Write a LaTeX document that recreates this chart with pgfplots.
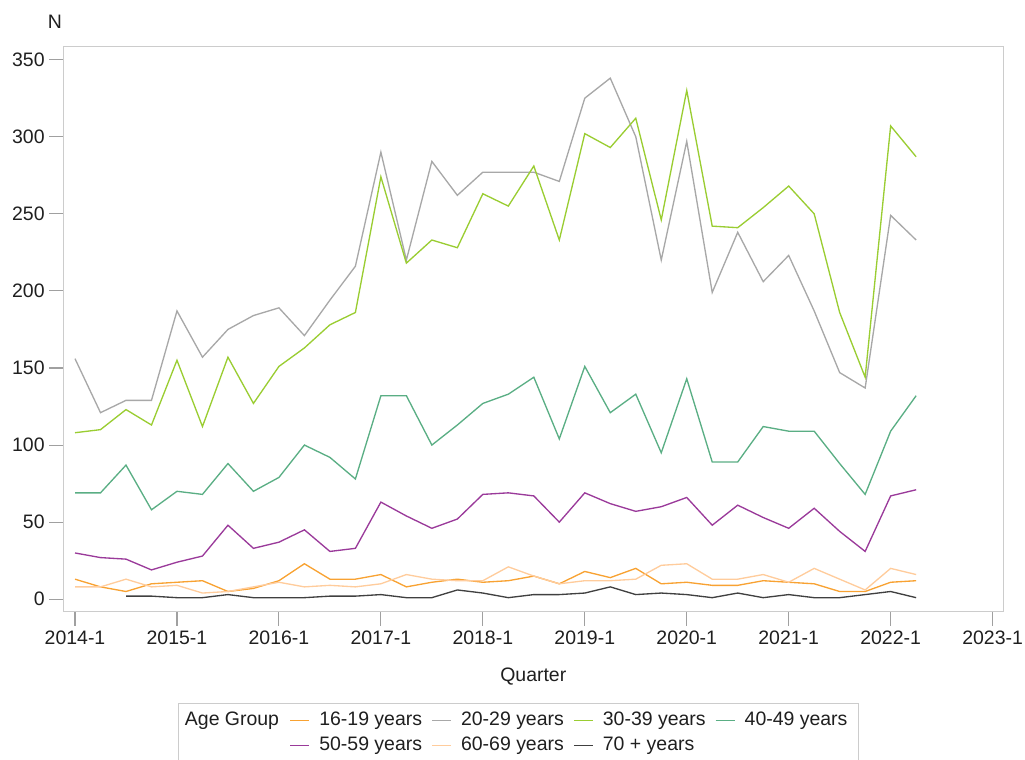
\documentclass[border=0pt]{standalone}
\usepackage{pgfplots}
\pgfplotsset{compat=1.18}
\usepackage{fontspec}
\setmainfont{Liberation Sans}

\definecolor{cA}{HTML}{F8A232}
\definecolor{cB}{HTML}{A8A8A8}
\definecolor{cC}{HTML}{9ACD32}
\definecolor{cD}{HTML}{5AAE84}
\definecolor{cE}{HTML}{9A3A9A}
\definecolor{cF}{HTML}{FFCC9C}
\definecolor{cG}{HTML}{404040}
\definecolor{frame}{HTML}{CCCCCC}
\definecolor{tickc}{HTML}{A0A0A0}

\begin{document}
\begin{tikzpicture}[font=\fontsize{14.6}{17.5}\selectfont, text=black!88]
\begin{axis}[
    at={(0,0)}, anchor=south west,
    scale only axis,
    width  = 705pt,
    height = 423.75pt,
    xmin = -0.46, xmax = 36.42,
    ymin = -8.1,  ymax = 358.4,
    axis line style = {frame, line width=0.8pt},
    tick style = {tickc, line width=0.8pt},
    tick align = outside,
    tick pos = left,
    major tick length = 10.5pt,
    xtick = {0,4,...,36},
    xticklabels = {2014-1,2015-1,2016-1,2017-1,2018-1,2019-1,2020-1,2021-1,2022-1,2023-1},
    ytick = {0,50,...,350},
    yticklabels = {0,50,100,150,200,250,300,350},
    xlabel = {Quarter},
    ylabel = {N},
    xlabel style = {at={(axis description cs:0.5,-0.1244)}, anchor=base},
    ylabel style = {at={(axis description cs:-0.0088,1.0326)}, anchor=base, rotate=-90},
    legend columns = 4,
    legend image code/.code={\draw[#1, line width=1pt] (0pt,3.5pt) -- (14.25pt,3.5pt);},
    legend style = {
        name=leg, draw=none,
        at={(axis description cs:0.2405,-0.1621)}, anchor=north west,
        inner xsep=0pt, inner ysep=3.2pt,
        nodes={inner xsep=0pt, inner ysep=2.6pt, text height=10.5pt, text depth=3pt, anchor=base west},
        /tikz/column sep=7pt,
    },
    every axis plot/.append style={line width=1pt},
]

% 16-19 years
\addplot[cA] coordinates {
(0,13) (1,8) (2,5) (3,10) (4,11) (5,12) (6,5) (7,7) (8,12) (9,23)
(10,13) (11,13) (12,16) (13,8) (14,11) (15,13) (16,11) (17,12) (18,15) (19,10)
(20,18) (21,14) (22,20) (23,10) (24,11) (25,9) (26,9) (27,12) (28,11) (29,10)
(30,5) (31,5) (32,11) (33,12)};
\addlegendentry{16-19 years}

% 20-29 years
\addplot[cB] coordinates {
(0,156) (1,121) (2,129) (3,129) (4,187) (5,157) (6,175) (7,184) (8,189) (9,171)
(10,194) (11,216) (12,290) (13,220) (14,284) (15,262) (16,277) (17,277) (18,277) (19,271)
(20,325) (21,338) (22,300) (23,220) (24,297) (25,199) (26,238) (27,206) (28,223) (29,187)
(30,147) (31,137) (32,249) (33,233)};
\addlegendentry{20-29 years}

% 30-39 years
\addplot[cC] coordinates {
(0,108) (1,110) (2,123) (3,113) (4,155) (5,112) (6,157) (7,127) (8,151) (9,163)
(10,178) (11,186) (12,274) (13,218) (14,233) (15,228) (16,263) (17,255) (18,281) (19,233)
(20,302) (21,293) (22,312) (23,246) (24,330) (25,242) (26,241) (27,254) (28,268) (29,250)
(30,186) (31,144) (32,307) (33,287)};
\addlegendentry{30-39 years}

% 40-49 years
\addplot[cD] coordinates {
(0,69) (1,69) (2,87) (3,58) (4,70) (5,68) (6,88) (7,70) (8,79) (9,100)
(10,92) (11,78) (12,132) (13,132) (14,100) (15,113) (16,127) (17,133) (18,144) (19,104)
(20,151) (21,121) (22,133) (23,95) (24,143) (25,89) (26,89) (27,112) (28,109) (29,109)
(30,88) (31,68) (32,109) (33,132)};
\addlegendentry{40-49 years}

% 50-59 years
\addplot[cE] coordinates {
(0,30) (1,27) (2,26) (3,19) (4,24) (5,28) (6,48) (7,33) (8,37) (9,45)
(10,31) (11,33) (12,63) (13,54) (14,46) (15,52) (16,68) (17,69) (18,67) (19,50)
(20,69) (21,62) (22,57) (23,60) (24,66) (25,48) (26,61) (27,53) (28,46) (29,59)
(30,44) (31,31) (32,67) (33,71)};
\addlegendentry{50-59 years}

% 60-69 years
\addplot[cF] coordinates {
(0,8) (1,8) (2,13) (3,8) (4,9) (5,4) (6,5) (7,8) (8,11) (9,8)
(10,9) (11,8) (12,10) (13,16) (14,13) (15,12) (16,12) (17,21) (18,15) (19,10)
(20,12) (21,12) (22,13) (23,22) (24,23) (25,13) (26,13) (27,16) (28,11) (29,20)
(30,13) (31,6) (32,20) (33,16)};
\addlegendentry{60-69 years}

% 70 + years
\addplot[cG] coordinates {
(2,2) (3,2) (4,1) (5,1) (6,3) (7,1) (8,1) (9,1)
(10,2) (11,2) (12,3) (13,1) (14,1) (15,6) (16,4) (17,1) (18,3) (19,3)
(20,4) (21,8) (22,3) (23,4) (24,3) (25,1) (26,4) (27,1) (28,3) (29,1)
(30,1) (31,3) (32,5) (33,1)};
\addlegendentry{70 + years}

\end{axis}

% legend title and frame round the legend
\node[anchor=north east, inner xsep=0pt, inner ysep=2.6pt, text height=10.5pt, text depth=3pt]
    (ttl) at ([xshift=-7.5pt, yshift=-3.2pt]leg.north west) {Age Group};
\draw[frame, line width=0.8pt] ([xshift=-4.7pt]ttl.west |- leg.north) rectangle ([xshift=8pt]leg.south east);

\pgfresetboundingbox
\path[x=0.75pt,y=0.75pt] (-63.3,-148.3) rectangle (961.7,611.7);
\end{tikzpicture}
\end{document}
